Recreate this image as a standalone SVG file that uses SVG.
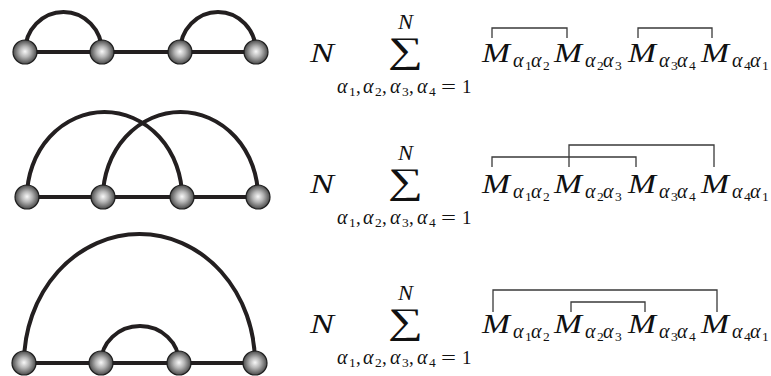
<svg xmlns="http://www.w3.org/2000/svg" width="771" height="376" viewBox="0 0 771 376">
<defs>
<radialGradient id="ball" cx="0.5" cy="0.5" r="0.5" fx="0.5" fy="0.48">
<stop offset="0" stop-color="#f8f8f8"/>
<stop offset="0.45" stop-color="#b4b4b4"/>
<stop offset="1" stop-color="#4a4a4a"/>
</radialGradient>
<style>
.edge{fill:none;stroke:#231f20;stroke-width:4}
.node{fill:url(#ball);stroke:#1e1e1e;stroke-width:1.2}
.br{fill:none;stroke:#3a3a3a;stroke-width:1.3}
.m{font-family:"Liberation Serif",serif;font-style:italic;font-size:27px;fill:#111}
.a{font-family:"Liberation Serif",serif;font-style:italic;font-size:20px;fill:#111}
.d{font-family:"Liberation Serif",serif;font-size:13.5px;fill:#111}
.s{font-family:"Liberation Serif",serif;font-size:19px;fill:#111}
.sum{font-family:"Liberation Serif",serif;font-size:36px;fill:#111}
</style>
<g id="formula">
<text class="m" x="310" y="62" textLength="24" lengthAdjust="spacingAndGlyphs">N</text>
<text class="a" x="398" y="29" textLength="15" lengthAdjust="spacingAndGlyphs">N</text>
<text class="sum" x="388" y="62" textLength="35" lengthAdjust="spacingAndGlyphs">∑</text>
<text x="337" y="93"><tspan class="a">α</tspan><tspan class="d" x="349" dy="3">1</tspan><tspan class="s" x="356" dy="-3">,</tspan><tspan class="a" x="363">α</tspan><tspan class="d" x="375" dy="3">2</tspan><tspan class="s" x="382" dy="-3">,</tspan><tspan class="a" x="390">α</tspan><tspan class="d" x="402" dy="3">3</tspan><tspan class="s" x="409" dy="-3">,</tspan><tspan class="a" x="417">α</tspan><tspan class="d" x="429" dy="3">4</tspan><tspan class="s" x="441" dy="-3" textLength="15" lengthAdjust="spacingAndGlyphs">=</tspan><tspan class="s" x="462">1</tspan></text>
<text class="m" x="482" y="62" textLength="28" lengthAdjust="spacingAndGlyphs">M</text>
<text x="513" y="67"><tspan class="a">α</tspan><tspan class="d" x="525" dy="3">1</tspan><tspan class="a" x="531" dy="-3">α</tspan><tspan class="d" x="543" dy="3">2</tspan></text>
<text class="m" x="554" y="62" textLength="28" lengthAdjust="spacingAndGlyphs">M</text>
<text x="585" y="67"><tspan class="a">α</tspan><tspan class="d" x="597" dy="3">2</tspan><tspan class="a" x="603" dy="-3">α</tspan><tspan class="d" x="615" dy="3">3</tspan></text>
<text class="m" x="628" y="62" textLength="28" lengthAdjust="spacingAndGlyphs">M</text>
<text x="659" y="67"><tspan class="a">α</tspan><tspan class="d" x="671" dy="3">3</tspan><tspan class="a" x="677" dy="-3">α</tspan><tspan class="d" x="689" dy="3">4</tspan></text>
<text class="m" x="701" y="62" textLength="28" lengthAdjust="spacingAndGlyphs">M</text>
<text x="732" y="67"><tspan class="a">α</tspan><tspan class="d" x="744" dy="3">4</tspan><tspan class="a" x="750" dy="-3">α</tspan><tspan class="d" x="762" dy="3">1</tspan></text>
</g>
</defs>

<g id="connectors">
<path class="edge" d="M25,52 H256"/>
<path class="edge" d="M25,52 A38.5,40 0 0 1 102,52"/>
<path class="edge" d="M180,52 A38,40 0 0 1 256,52"/>
<path class="edge" d="M27,197 H258"/>
<path class="edge" d="M27,197 A77.5,85 0 0 1 182,197"/>
<path class="edge" d="M103,197 A77.5,85 0 0 1 258,197"/>
<path class="edge" d="M24,363 H255"/>
<path class="edge" d="M24,363 A115.5,129 0 0 1 255,363"/>
<path class="edge" d="M101,363 A39,37 0 0 1 179,363"/>
</g>

<g id="n1a"><circle class="node" cx="25" cy="52" r="12"/></g>
<g id="n1b"><circle class="node" cx="102" cy="52" r="12"/></g>
<g id="n1c"><circle class="node" cx="180" cy="52" r="12"/></g>
<g id="n1d"><circle class="node" cx="256" cy="52" r="12"/></g>
<g id="n2a"><circle class="node" cx="27" cy="197" r="12"/></g>
<g id="n2b"><circle class="node" cx="103" cy="197" r="12"/></g>
<g id="n2c"><circle class="node" cx="182" cy="197" r="12"/></g>
<g id="n2d"><circle class="node" cx="258" cy="197" r="12"/></g>
<g id="n3a"><circle class="node" cx="24" cy="363" r="12"/></g>
<g id="n3b"><circle class="node" cx="101" cy="363" r="12"/></g>
<g id="n3c"><circle class="node" cx="179" cy="363" r="12"/></g>
<g id="n3d"><circle class="node" cx="255" cy="363" r="12"/></g>

<g id="formula1"><use href="#formula"/><path class="br" d="M492,38 V28 H567 V38 M638,38 V28 H712 V38"/></g>
<g id="formula2"><use href="#formula" y="131"/><path class="br" d="M492,167 V157 H636 V167 M569,167 V145 H714 V167"/></g>
<g id="formula3"><use href="#formula" y="271"/><path class="br" d="M493,312 V290 H717 V312 M571,312 V302 H645 V312"/></g>
</svg>
